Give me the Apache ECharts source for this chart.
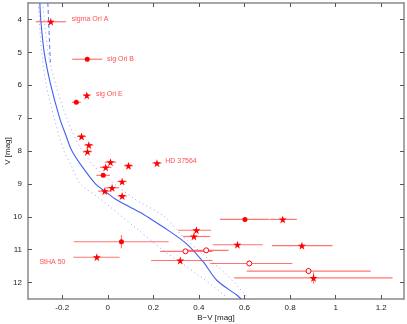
<!DOCTYPE html>
<html>
<head>
<meta charset="utf-8">
<script src="https://cdn.jsdelivr.net/npm/echarts@6/dist/echarts.min.js"></script>
<style>
  html, body { margin: 0; padding: 0; background: #fff; }
  #chart { width: 407px; height: 324px; }
</style>
</head>
<body>
<div id="chart"></div>
<script>
// [B-V, V, B-V low, B-V high, V low, V high]
const filledStars = [
  [-0.250, 4.07, -0.316, -0.183, 4.04, 4.10],
  [-0.092, 6.31, -0.108, -0.076, 6.24, 6.38],
  [-0.115, 7.56, -0.135, -0.095, 7.52, 7.60],
  [-0.083, 7.82, -0.103, -0.063, 7.78, 7.86],
  [-0.089, 8.02, -0.109, -0.069, 7.98, 8.06],
  [0.012, 8.34, -0.013, 0.037, 8.30, 8.38],
  [-0.009, 8.50, -0.034, 0.016, 8.46, 8.54],
  [0.091, 8.45, 0.071, 0.111, 8.41, 8.49],
  [0.063, 8.93, 0.043, 0.083, 8.89, 8.97],
  [0.019, 9.12, -0.011, 0.049, 9.08, 9.16],
  [-0.013, 9.22, -0.043, 0.017, 9.18, 9.26],
  [0.063, 9.37, 0.043, 0.083, 9.33, 9.41],
  [0.216, 8.37, 0.196, 0.236, 8.33, 8.41],
  [-0.048, 11.23, -0.151, 0.052, 11.17, 11.29],
  [0.389, 10.41, 0.308, 0.454, 10.37, 10.45],
  [0.378, 10.60, 0.330, 0.450, 10.56, 10.64],
  [0.569, 10.85, 0.461, 0.680, 10.81, 10.89],
  [0.768, 10.08, 0.710, 0.830, 10.04, 10.12],
  [0.852, 10.88, 0.720, 0.986, 10.84, 10.92],
  [0.318, 11.33, 0.190, 0.460, 11.29, 11.37],
  [0.903, 11.86, 0.555, 1.250, 11.69, 12.03]
];
const filledCircles = [
  [-0.090, 5.21, -0.156, -0.024, 5.18, 5.24],
  [-0.138, 6.52, -0.158, -0.118, 6.49, 6.55],
  [-0.020, 8.74, -0.050, 0.010, 8.70, 8.78],
  [0.060, 10.76, -0.149, 0.267, 10.56, 10.96],
  [0.602, 10.08, 0.493, 0.707, 10.04, 10.12]
];
const openCircles = [
  [0.341, 11.05, 0.230, 0.460, 11.01, 11.09],
  [0.432, 11.02, 0.340, 0.530, 10.98, 11.06],
  [0.621, 11.42, 0.450, 0.810, 11.34, 11.50],
  [0.881, 11.65, 0.610, 1.154, 11.55, 11.75]
];
// [B-V, V, text]
const labels = [
  [-0.158, 4.00, 'sigma Ori A'],
  [-0.003, 5.20, 'sig Ori B'],
  [-0.052, 6.26, 'sig Ori E'],
  [0.252, 8.30, 'HD 37564'],
  [-0.300, 11.38, 'StHA 50']
];
// isochrone [B-V, V]
const isoSolid = [
  [-0.298, 3.5], [-0.294, 4.0], [-0.279, 5.0], [-0.250, 6.0], [-0.211, 7.0],
  [-0.185, 7.5], [-0.157, 8.0], [-0.110, 8.5], [-0.054, 9.0], [-0.013, 9.22],
  [0.042, 9.5], [0.143, 9.87], [0.187, 10.06], [0.267, 10.42], [0.347, 10.83],
  [0.420, 11.38], [0.478, 11.93], [0.566, 12.38], [0.585, 12.5]
];
const isoUpper = [
  [-0.285, 3.5], [-0.262, 5.0], [-0.228, 6.0], [-0.180, 7.0], [-0.120, 7.9],
  [-0.040, 8.6], [0.110, 9.42], [0.245, 9.98], [0.330, 10.6], [0.420, 11.15],
  [0.520, 11.75], [0.620, 12.5]
];
const isoLower = [
  [-0.305, 3.5], [-0.290, 5.0], [-0.270, 6.0], [-0.235, 7.0], [-0.194, 7.97],
  [-0.163, 8.4], [-0.120, 9.0], [-0.040, 9.42], [0.120, 10.32], [0.245, 11.03],
  [0.390, 11.73], [0.515, 12.41], [0.52, 12.5]
];
const isoDashed = [[-0.263, 3.5], [-0.258, 4.3], [-0.252, 5.3]];

const xTicks = [-0.2, 0, 0.2, 0.4, 0.6, 0.8, 1, 1.2];
const yTicks = [4, 5, 6, 7, 8, 9, 10, 11, 12];

const axisGray = '#8a8a8a';
const font = 'Liberation Sans, Arial, sans-serif';

function errorBars(data) {
  return {
    type: 'custom',
    data: data,
    silent: true,
    clip: true,
    z: 3,
    renderItem: function (params, api) {
      const l = api.coord([api.value(2), api.value(1)]);
      const r = api.coord([api.value(3), api.value(1)]);
      const t = api.coord([api.value(0), api.value(4)]);
      const b = api.coord([api.value(0), api.value(5)]);
      const st = { stroke: 'rgba(255,70,70,0.75)', lineWidth: 1.2 };
      return {
        type: 'group',
        children: [
          { type: 'line', shape: { x1: l[0], y1: l[1], x2: r[0], y2: r[1] }, style: st },
          { type: 'line', shape: { x1: t[0], y1: t[1], x2: b[0], y2: b[1] }, style: st }
        ]
      };
    }
  };
}

const starPath = 'path://M0,-10 L2.24,-3.09 L9.51,-3.09 L3.63,1.18 L5.88,8.09 L0,3.82 L-5.88,8.09 L-3.63,1.18 L-9.51,-3.09 L-2.24,-3.09 Z';

const baseAxis = {
  axisLine: { show: true, onZero: false, lineStyle: { color: axisGray, width: 1.5 } },
  splitLine: { show: false },
  axisTick: { inside: true, length: 4, lineStyle: { color: '#555' } }
};

const option = {
  animation: false,
  grid: { left: 28, top: 3, right: 3, bottom: 25, containLabel: false, outerBoundsMode: 'none' },
  xAxis: [
    Object.assign({}, baseAxis, {
      type: 'value', min: -0.35, max: 1.3, position: 'bottom',
      name: 'B\u2212V [mag]', nameLocation: 'middle', nameGap: 19, nameMoveOverlap: false,
      nameTextStyle: { fontSize: 8, color: '#222', fontFamily: font, verticalAlign: 'middle' },
      axisTick: Object.assign({}, baseAxis.axisTick, { customValues: xTicks }),
      axisLabel: { customValues: xTicks, fontSize: 8, color: '#222', fontFamily: font, margin: 5,
        formatter: v => String(v) }
    }),
    Object.assign({}, baseAxis, {
      type: 'value', min: -0.35, max: 1.3, position: 'top',
      axisTick: Object.assign({}, baseAxis.axisTick, { customValues: xTicks }),
      axisLabel: { show: false }
    })
  ],
  yAxis: [
    Object.assign({}, baseAxis, {
      type: 'value', min: 3.5, max: 12.5, inverse: true, position: 'left',
      name: 'V [mag]', nameLocation: 'middle', nameGap: 20, nameMoveOverlap: false,
      nameTextStyle: { fontSize: 8, color: '#222', fontFamily: font, verticalAlign: 'middle' },
      axisTick: Object.assign({}, baseAxis.axisTick, { customValues: yTicks }),
      axisLabel: { customValues: yTicks, fontSize: 8, color: '#222', fontFamily: font, margin: 6 }
    }),
    Object.assign({}, baseAxis, {
      type: 'value', min: 3.5, max: 12.5, inverse: true, position: 'right',
      axisTick: Object.assign({}, baseAxis.axisTick, { customValues: yTicks }),
      axisLabel: { show: false }
    })
  ],
  series: [
    { type: 'line', data: isoUpper, symbol: 'none', silent: true, z: 1, smooth: 0.3,
      lineStyle: { color: '#a4b0ff', width: 1, type: [1.2, 3] } },
    { type: 'line', data: isoLower, symbol: 'none', silent: true, z: 1, smooth: 0.3,
      lineStyle: { color: '#a4b0ff', width: 1, type: [1.2, 3] } },
    { type: 'line', data: isoDashed, symbol: 'none', silent: true, z: 1,
      lineStyle: { color: '#5a74f0', width: 1, type: [4, 3] } },
    { type: 'line', data: isoSolid, symbol: 'none', silent: true, z: 2, smooth: 0.3,
      lineStyle: { color: '#3f5ff0', width: 1.1 } },
    errorBars(filledStars),
    errorBars(filledCircles),
    errorBars(openCircles),
    { type: 'scatter', data: filledStars.map(d => [d[0], d[1]]), symbol: starPath, symbolSize: 8, z: 5,
      itemStyle: { color: '#ff0000', opacity: 1 } },
    { type: 'scatter', data: filledCircles.map(d => [d[0], d[1]]), symbol: 'circle', symbolSize: 5, z: 5,
      itemStyle: { color: '#ff0000', opacity: 1 } },
    { type: 'scatter', data: openCircles.map(d => [d[0], d[1]]), symbol: 'circle', symbolSize: 5, z: 5,
      itemStyle: { color: '#fff', borderColor: '#ff0000', borderWidth: 1, opacity: 1 } },
    { type: 'scatter', data: labels, symbolSize: 0, z: 6, silent: true,
      label: { show: true, position: 'right', distance: 0, formatter: p => p.data[2],
        fontSize: 7, color: '#ff2020', fontFamily: font } }
  ]
};

const chart = echarts.init(document.getElementById('chart'));
chart.setOption(option);
</script>
</body>
</html>
